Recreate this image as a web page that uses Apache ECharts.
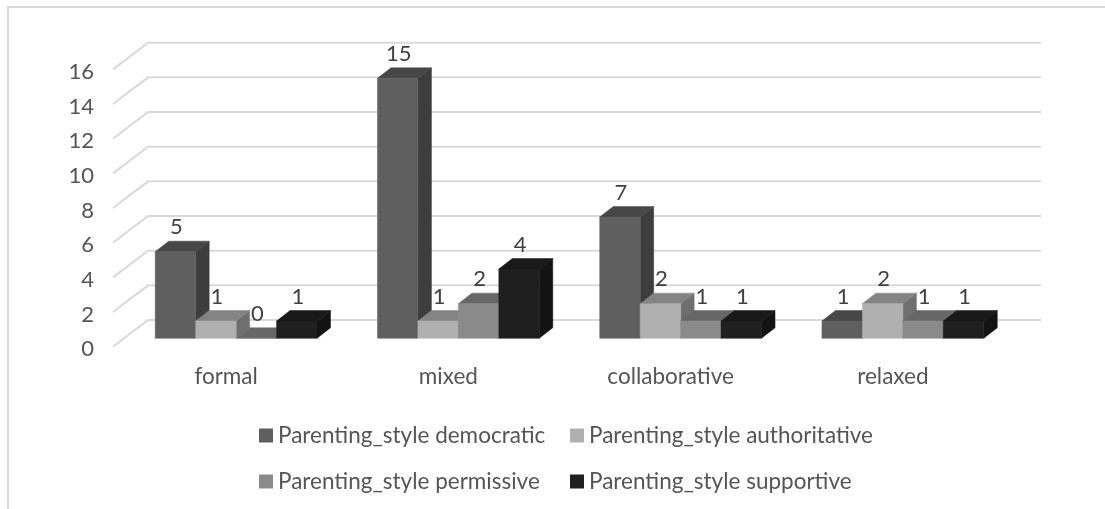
<!DOCTYPE html>
<html>
<head>
<meta charset="utf-8">
<style>html,body{margin:0;padding:0;background:#fff}#chart{width:1105px;height:509px}</style>
<script src="https://cdn.jsdelivr.net/npm/echarts@6/dist/echarts.min.js"></script>
</head>
<body>
<div id="chart"></div>
<script>
// Survey counts per school climate, split by parenting style.
const categories = ['formal', 'mixed', 'collaborative', 'relaxed'];
const yTicks = [0, 2, 4, 6, 8, 10, 12, 14, 16];
const democratic = [5, 15, 7, 1];
const authoritative = [1, 1, 2, 2];
const permissive = [0, 2, 1, 1];
const supportive = [1, 4, 1, 1];

const seriesNames = [
  'Parenting_style democratic',
  'Parenting_style authoritative',
  'Parenting_style permissive',
  'Parenting_style supportive'
];
const seriesValues = [democratic, authoritative, permissive, supportive];
const faceColours = [
  { front: '#5f5f5f', top: '#474747', side: '#3d3d3d' },
  { front: '#b0b0b0', top: '#848484', side: '#6f6f6f' },
  { front: '#8a8a8a', top: '#676767', side: '#535353' },
  { front: '#1f1f1f', top: '#191919', side: '#131313' }
];

const FONT = 'Lato, "Open Sans", sans-serif';
const TEXT_COLOUR = '#555555';
const DEPTH_X = 13.5;      // how far a bar recedes to the right
const DEPTH_Y = 10.5;      // how far a bar recedes upwards
const BAR_SHARE = 0.182;   // bar width as a share of the category band

function poly(points, fill) {
  return { type: 'polygon', shape: { points: points }, style: { fill: fill, stroke: fill, lineWidth: 0.5 } };
}

// One 3D box: front, top and right faces plus the value above it.
function boxRenderer(seriesIndex) {
  const c = faceColours[seriesIndex];
  return function (params, api) {
    const cat = api.value(0);
    const val = api.value(1);
    const base = api.coord([cat, 0]);
    const head = api.coord([cat, val]);
    const w = api.size([1, 0])[0] * BAR_SHARE;
    const x0 = base[0] + (seriesIndex - 2) * w;
    const x1 = x0 + w;
    const yb = base[1];
    const yt = head[1];
    return {
      type: 'group',
      children: [
        poly([[x1, yt], [x1 + DEPTH_X, yt - DEPTH_Y], [x1 + DEPTH_X, yb - DEPTH_Y], [x1, yb]], c.side),
        poly([[x0, yt], [x0 + DEPTH_X, yt - DEPTH_Y], [x1 + DEPTH_X, yt - DEPTH_Y], [x1, yt]], c.top),
        poly([[x0, yt], [x1, yt], [x1, yb], [x0, yb]], c.front),
        {
          type: 'text',
          style: {
            x: (x0 + x1) / 2 + 1,
            y: yt - 24.5,
            text: String(val),
            fill: '#404040',
            font: '22px ' + FONT,
            align: 'center',
            verticalAlign: 'middle'
          }
        }
      ]
    };
  };
}

// Gridline running along the side wall and then across the back wall.
function wallRenderer(params, api) {
  const p = api.coord([0, api.value(0)]);
  const g = params.coordSys;
  const y = p[1];
  return {
    type: 'polyline',
    shape: { points: [[g.x - 12, y + 8.4], [g.x + 23, y - 18.3], [g.x + g.width + 27, y - 18.3]] },
    style: { fill: null, stroke: '#d9d9d9', lineWidth: 2 }
  };
}

const legendBase = {
  orient: 'vertical',
  top: 419,
  itemWidth: 14,
  itemHeight: 14,
  itemGap: 23,
  icon: 'rect',
  selectedMode: false,
  textStyle: { color: TEXT_COLOUR, fontFamily: FONT, fontSize: 22.5 }
};

const chart = echarts.init(document.getElementById('chart'), null, { renderer: 'canvas' });

chart.setOption({
  animation: false,
  backgroundColor: '#fff',
  grid: { left: 125, top: 61, width: 889, height: 277.3, containLabel: false },
  xAxis: {
    type: 'category',
    data: categories,
    axisLine: { show: false },
    axisTick: { show: false },
    splitLine: { show: false },
    axisLabel: {
      color: TEXT_COLOUR,
      fontFamily: FONT,
      fontSize: 22.5,
      margin: 27,
      padding: [0, 20, 0, 0]
    }
  },
  yAxis: {
    type: 'value',
    min: 0,
    max: 16,
    interval: 2,
    axisLine: { show: false },
    axisTick: { show: false },
    splitLine: { show: false },
    axisLabel: {
      color: TEXT_COLOUR,
      fontFamily: FONT,
      fontSize: 22,
      margin: 31,
      verticalAlign: 'top',
      customValues: yTicks
    }
  },
  legend: [
    Object.assign({}, legendBase, { data: [seriesNames[0], seriesNames[2]], left: 254 }),
    Object.assign({}, legendBase, { data: [seriesNames[1], seriesNames[3]], left: 565 })
  ],
  graphic: [
    {
      type: 'polyline',
      silent: true,
      shape: { points: [[8, 509], [8, 7], [1105, 7]] },
      style: { fill: null, stroke: '#d9d9d9', lineWidth: 2 }
    }
  ],
  series: [
    {
      type: 'custom',
      name: 'walls',
      silent: true,
      z: 1,
      renderItem: wallRenderer,
      data: yTicks.map(v => [v]),
      encode: { y: 0 }
    }
  ].concat(seriesNames.map((name, i) => ({
    type: 'custom',
    name: name,
    z: 2,
    silent: true,
    itemStyle: { color: faceColours[i].front },
    renderItem: boxRenderer(i),
    data: seriesValues[i].map((v, k) => [k, v]),
    encode: { x: 0, y: 1 }
  })))
});
</script>
</body>
</html>
